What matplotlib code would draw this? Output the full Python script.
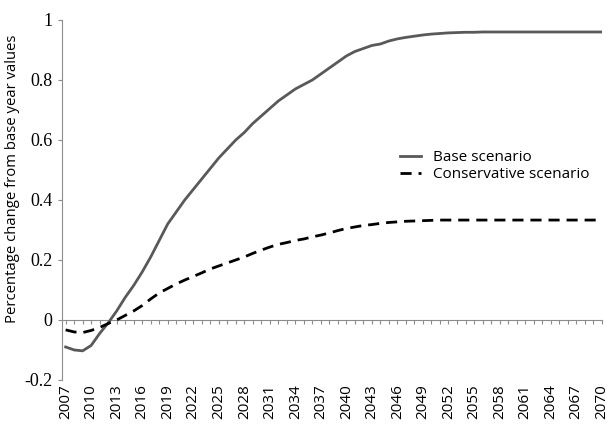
import matplotlib
matplotlib.use("Agg")
import matplotlib.pyplot as plt

# years shown on the x axis
years = list(range(2007, 2071))

# base scenario
base = [-0.09, -0.10, -0.103, -0.085, -0.045, -0.01, 0.03, 0.075, 0.115, 0.16,
        0.21, 0.265, 0.32, 0.36, 0.40, 0.435, 0.47, 0.505, 0.54, 0.57,
        0.60, 0.625, 0.655, 0.68, 0.705, 0.73, 0.75, 0.77, 0.785, 0.80,
        0.82, 0.84, 0.86, 0.88, 0.895, 0.905, 0.915, 0.92, 0.93, 0.937,
        0.942, 0.946, 0.95, 0.953, 0.955, 0.957, 0.958, 0.959, 0.959, 0.96,
        0.96, 0.96, 0.96, 0.96, 0.96, 0.96, 0.96, 0.96, 0.96, 0.96,
        0.96, 0.96, 0.96, 0.96]

# conservative scenario
conservative = [-0.033, -0.04, -0.042, -0.035, -0.025, -0.012, 0.0, 0.015, 0.03, 0.048,
                0.07, 0.09, 0.105, 0.12, 0.133, 0.145, 0.157, 0.17, 0.18, 0.19,
                0.20, 0.21, 0.222, 0.233, 0.243, 0.252, 0.258, 0.265, 0.27, 0.277,
                0.283, 0.29, 0.298, 0.305, 0.31, 0.315, 0.318, 0.322, 0.325, 0.327,
                0.329, 0.33, 0.331, 0.332, 0.333, 0.333, 0.333, 0.333, 0.333, 0.333,
                0.333, 0.333, 0.333, 0.333, 0.333, 0.333, 0.333, 0.333, 0.333, 0.333,
                0.333, 0.333, 0.333, 0.333]

tick_years = years[::3]
y_ticks = [-0.2, 0, 0.2, 0.4, 0.6, 0.8, 1]
y_labels = ["-0.2", "0", "0.2", "0.4", "0.6", "0.8", "1"]

axis_grey = "#8c8c8c"

fig = plt.figure(figsize=(6.1, 4.25), dpi=100)
ax = fig.add_axes([0.102, 0.106, 0.885, 0.847])

ax.plot(years, base, color="#595959", lw=2, label="Base scenario")
ax.plot(years, conservative, color="black", lw=2, dashes=(4, 2.5),
        label="Conservative scenario")

ymin, ymax = -0.2, 1
ax.set_ylim(ymin, ymax)
ax.set_xlim(2006.6, 2070.05)

for s in ["top", "right", "bottom"]:
    ax.spines[s].set_visible(False)
ax.spines["left"].set_color(axis_grey)

ax.set_yticks(y_ticks)
ax.set_yticklabels(y_labels)
for lbl in ax.get_yticklabels():
    lbl.set_fontfamily("Liberation Serif")
    lbl.set_fontsize(13)
ax.tick_params(axis="y", length=3, color=axis_grey, pad=4)

ax.set_xticks(tick_years)
ax.set_xticklabels([str(y) for y in tick_years], rotation=90,
                   family="Open Sans", fontsize=11)
ax.tick_params(axis="x", length=0, pad=3)

# zero line carrying the yearly tick marks
zero_pos = (0 - ymin) / (ymax - ymin)
sec = ax.secondary_xaxis(zero_pos)
sec.set_xticks(years)
sec.set_xticklabels([])
sec.tick_params(axis="x", length=3, color=axis_grey, direction="out")
sec.spines["bottom"].set_color(axis_grey)

ax.set_ylabel("Percentage change from base year values", family="Open Sans",
              fontsize=10.7)
ax.yaxis.set_label_coords(-0.078, 0.56)

ax.legend(loc="upper left", bbox_to_anchor=(0.612, 0.66), frameon=False,
          prop={"family": "Open Sans", "size": 11}, handlelength=1.35,
          handletextpad=0.8, labelspacing=0.15, borderpad=0)

fig.savefig("out.png", dpi=100)
